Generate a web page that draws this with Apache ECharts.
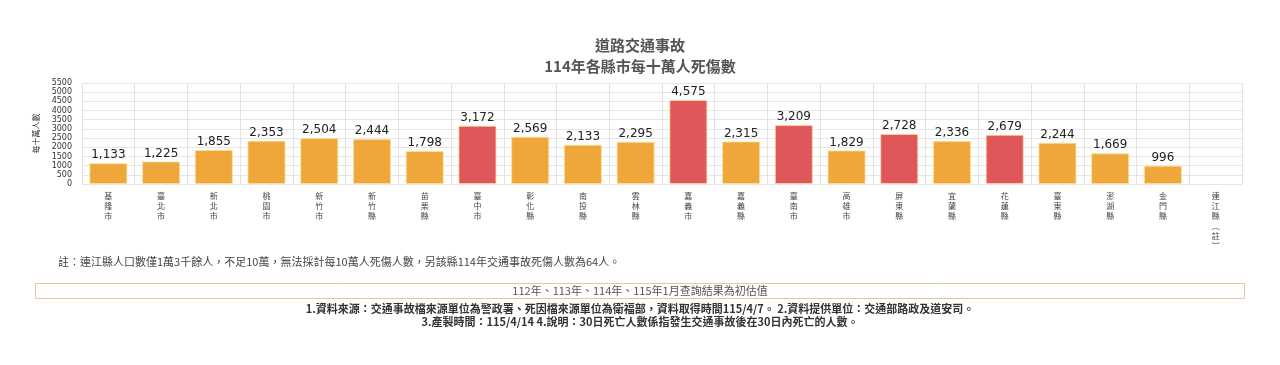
<!DOCTYPE html>
<html>
<head>
<meta charset="utf-8">
<script src="https://cdn.jsdelivr.net/npm/echarts@6/dist/echarts.min.js"></script>
<style>
html,body{margin:0;padding:0;background:#fff;}
#chart{width:1280px;height:365px;}
</style>
</head>
<body>
<div id="chart"></div>
<script>
const categories = ['基隆市','臺北市','新北市','桃園市','新竹市','新竹縣','苗栗縣','臺中市','彰化縣','南投縣','雲林縣','嘉義市','嘉義縣','臺南市','高雄市','屏東縣','宜蘭縣','花蓮縣','臺東縣','澎湖縣','金門縣','連江縣︵註︶'];
const values = [1133,1225,1855,2353,2504,2444,1798,3172,2569,2133,2295,4575,2315,3209,1829,2728,2336,2679,2244,1669,996,null];
const yTicks = {min:0, max:5500, interval:500};
const titleLines = ['道路交通事故','114年各縣市每十萬人死傷數'];
const yName = '每十萬人數';
const noteText = '註：連江縣人口數僅1萬3千餘人，不足10萬，無法採計每10萬人死傷人數，另該縣114年交通事故死傷人數為64人。';
const boxText = '112年、113年、114年、115年1月查詢結果為初估值';
const sourceLines = ['1.資料來源：交通事故檔來源單位為警政署、死因檔來源單位為衛福部，資料取得時間115/4/7。 2.資料提供單位：交通部路政及道安司。','3.產製時間：115/4/14 4.說明：30日死亡人數係指發生交通事故後在30日內死亡的人數。'];

const FONT = '"Noto Sans CJK TC","Noto Sans",sans-serif';
const NUMFONT = '"DejaVu Sans",sans-serif';
const sorted = values.filter(v => v != null).slice().sort((a,b)=>b-a);
const redThreshold = sorted[4];
const ORANGE = '#EFA73B', RED = '#E0575B';

const chart = echarts.init(document.getElementById('chart'));
chart.setOption({
  animation:false,
  textStyle:{fontFamily:FONT},
  title:{
    text:titleLines.join('\n'),
    left:'center', top:30,
    textStyle:{fontSize:15, fontWeight:'bold', color:'#555', lineHeight:21, fontFamily:FONT}
  },
  grid:{left:82, right:38, top:83, bottom:181},
  xAxis:{
    type:'category', data:categories,
    axisLine:{show:false}, axisTick:{show:false},
    splitLine:{show:true, lineStyle:{color:'#e2e2e2', width:1}},
    axisLabel:{
      interval:0, fontSize:8, lineHeight:10, color:'#444', margin:7,
      formatter: v => v.split('').join('\n')
    }
  },
  yAxis:{
    type:'value', min:yTicks.min, max:yTicks.max, interval:yTicks.interval,
    name:yName, nameLocation:'middle', nameRotate:90, nameGap:42,
    nameTextStyle:{fontSize:8, color:'#333'},
    axisLine:{show:false}, axisTick:{show:false},
    splitLine:{lineStyle:{color:'#e6e6e6'}},
    axisLabel:{fontSize:8, color:'#333', margin:10, fontFamily:NUMFONT, formatter: v => String(v)}
  },
  series:[{
    type:'bar', barWidth:38,
    data: values.map(v => v == null ? null : {value:v, itemStyle:{color: v >= redThreshold ? RED : ORANGE}}),
    itemStyle:{borderColor:'rgba(255,225,150,0.7)', borderWidth:1},
    label:{show:true, position:'top', distance:2, fontSize:12, color:'#222', fontFamily:NUMFONT,
      formatter: p => p.value == null ? '' : Number(p.value).toLocaleString('en-US')}
  }],
  graphic:[
    {type:'text', left:58, top:256, style:{text:noteText, fontSize:11, fill:'#444', fontFamily:FONT}},
    {type:'rect', shape:{x:35.5, y:283.5, width:1209, height:15}, style:{fill:'#fff', stroke:'#e3c99a', lineWidth:1}},
    {type:'text', x:640, y:291, style:{text:boxText, fontSize:11, fill:'#555', align:'center', verticalAlign:'middle', fontFamily:FONT}},
    {type:'text', x:640, y:309, style:{text:sourceLines[0], fontSize:11, fontWeight:'bold', fill:'#333', align:'center', verticalAlign:'middle', fontFamily:FONT}},
    {type:'text', x:640, y:322, style:{text:sourceLines[1], fontSize:11, fontWeight:'bold', fill:'#333', align:'center', verticalAlign:'middle', fontFamily:FONT}}
  ]
});
</script>
</body>
</html>
